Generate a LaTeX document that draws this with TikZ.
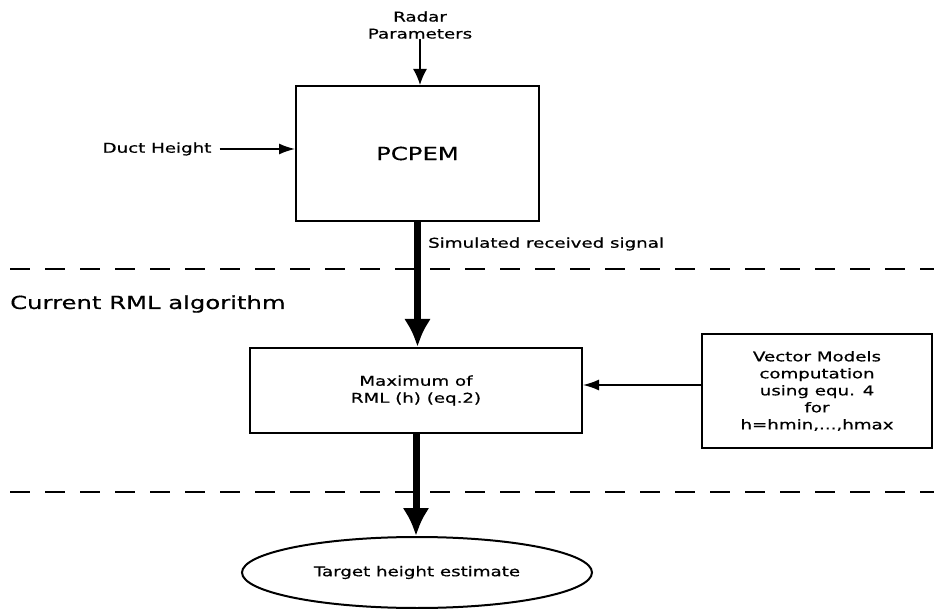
\documentclass[tikz,border=0pt]{standalone}
\usepackage{fontspec}
\setmainfont{DejaVu Sans}[FakeStretch=1.35, FakeBold=0.6]
\usetikzlibrary{arrows.meta,shapes.geometric}
\tikzset{
  box/.style={draw, line width=2pt, rectangle, inner sep=0pt, align=center},
  thinarrow/.style={line width=1.5pt, -{Latex[length=16pt,width=11pt]}},
  thickarrow/.style={line width=7pt, -{Latex[length=28pt,width=27pt]}},
  divider/.style={line width=2.5pt, dash pattern=on 20pt off 15pt},
  txt/.style={font=\fontsize{13.5}{17}\selectfont, align=center, inner sep=0pt},
}
\begin{document}
\begin{tikzpicture}[x=1pt, y=-1pt]
\useasboundingbox (0,0) rectangle (934,609);
% nodes
\node[box, minimum width=243pt, minimum height=135pt, font=\fontsize{18}{21}\selectfont] (pcpem) at (417.5,153.5) {PCPEM};
\node[txt] (radar) at (420,25) {Radar\\Parameters};
\node[txt] (duct) at (157,149) {Duct Height};
\node[box, minimum width=332pt, minimum height=85pt, txt] (rml) at (416,390.5) {Maximum of\\RML (h) (eq.2)};
\node[box, minimum width=230pt, minimum height=114pt, txt] (vec) at (817,391) {Vector Models\\computation\\using equ. 4\\for\\h=hmin,...,hmax};
\node[draw, ellipse, line width=2pt, minimum width=350pt, minimum height=71pt, inner sep=0pt, txt] (target) at (417,572.5) {Target height estimate};
\node[txt, anchor=west] (sim) at (428,244) {Simulated received signal};
\node[anchor=west, inner sep=0pt, font=\fontsize{18}{21}\selectfont] (cur) at (10,304) {Current RML algorithm};
% dividers
\draw[divider] (10,269) -- (934,269);
\draw[divider] (10,492) -- (934,492);
% connectors
\draw[thinarrow, -{Latex[length=16pt,width=14pt]}] (radar.south) -- (radar.south |- pcpem.north);
\draw[thinarrow] (duct.east) ++(8,0) -- (pcpem.west |- duct.east);
\draw[thickarrow] (pcpem.south) -- (pcpem.south |- rml.north);
\draw[thinarrow] ([yshift=6pt]vec.west) -- ([yshift=6pt]vec.west -| rml.east);
\draw[thickarrow] (rml.south) -- (rml.south |- target.north);
\end{tikzpicture}
\end{document}
